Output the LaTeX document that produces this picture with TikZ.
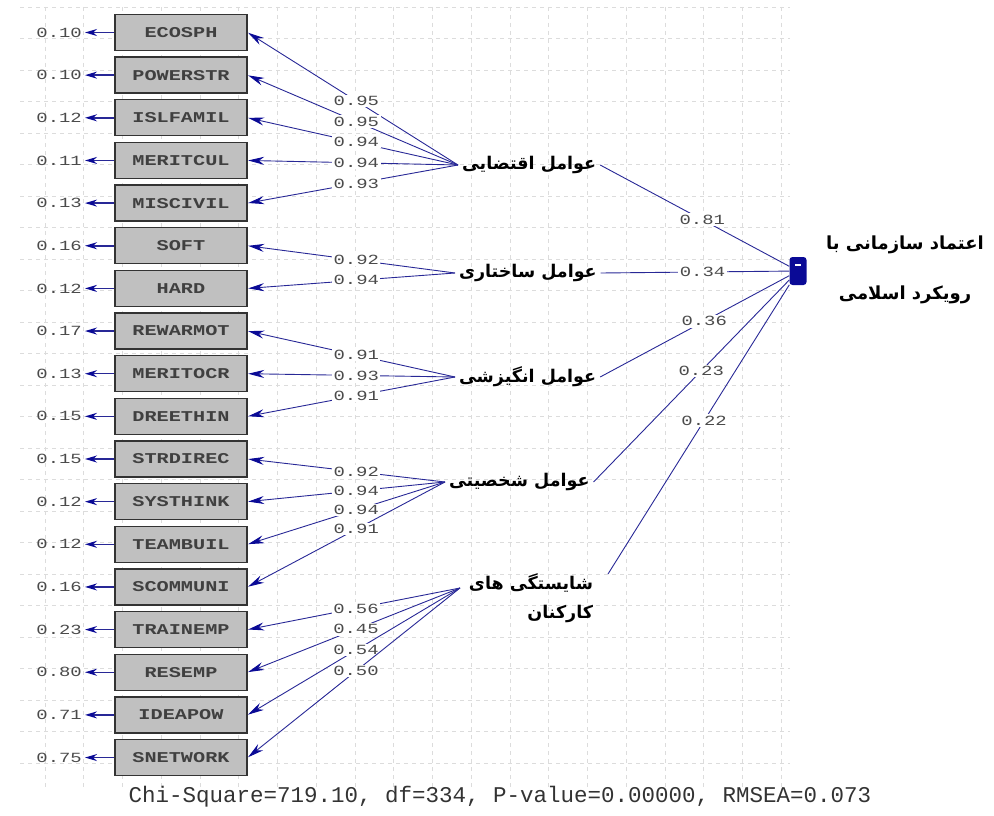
\documentclass[tikz,border=0pt]{standalone}
\usepackage{fontspec}
\usetikzlibrary{arrows.meta}
\TeXXeTstate=1
\newfontfamily\arabicfont[Script=Arabic]{DejaVu Sans}
\newfontfamily\widemono[FakeStretch=1.35]{Liberation Mono}
\newfontfamily\plainmono{Liberation Mono}
\definecolor{lisblue}{RGB}{40,40,150}
\definecolor{tipblue}{RGB}{10,10,150}
\definecolor{boxgray}{RGB}{192,192,192}
\definecolor{numgray}{RGB}{75,75,75}
\definecolor{gridgray}{RGB}{220,220,220}

\begin{document}
\begin{tikzpicture}[x=1pt,y=-1pt,
  gridline/.style={draw=gridgray, line width=0.6pt, dash pattern=on 4pt off 4pt},
  obs/.style={draw=black!80, line width=1.3pt, fill=boxgray, minimum width=132pt,
    minimum height=36pt, inner sep=0pt,
    font=\widemono\bfseries\fontsize{15}{15}\selectfont, text=black!75},
  errval/.style={inner sep=0pt, font=\widemono\fontsize{14}{14}\selectfont, text=numgray},
  coef/.style={fill=white, inner sep=1.5pt, font=\widemono\fontsize{14}{14}\selectfont, text=numgray},
  lat/.style={inner sep=0pt, outer sep=4pt, font=\arabicfont\bfseries\fontsize{17.5}{29}\selectfont},
  lnk/.style={draw=lisblue, line width=0.9pt},
  load/.style={lnk, -{Stealth[length=16pt,width=8pt,color=tipblue]}, shorten >=0.5pt},
  errarrow/.style={lnk, line width=1.5pt, -{Stealth[length=12pt,width=7pt,color=tipblue]}},
]
\useasboundingbox (0,0) rectangle (994,816);

% faint dashed background grid
\foreach \k in {0,...,19}
  \draw[gridline] ({45+38.75*\k},7) -- ({45+38.75*\k},790);
\foreach \k in {0,...,24}
  \draw[gridline] (20,{7+31.5*\k}) -- (790,{7+31.5*\k});

% observed variables with their error variances
\foreach \n/\e [count=\i from 0] in {
  ECOSPH/0.10, POWERSTR/0.10, ISLFAMIL/0.12, MERITCUL/0.11, MISCIVIL/0.13,
  SOFT/0.16, HARD/0.12, REWARMOT/0.17, MERITOCR/0.13, DREETHIN/0.15,
  STRDIREC/0.15, SYSTHINK/0.12, TEAMBUIL/0.12, SCOMMUNI/0.16, TRAINEMP/0.23,
  RESEMP/0.80, IDEAPOW/0.71, SNETWORK/0.75} {
  \node[obs] (v\i) at (181,{32.5+42.65*\i}) {\n};
  \node[errval, anchor=east] (e\i) at (82,{32.5+42.65*\i}) {\e};
  \draw[errarrow] (v\i.west) -- ([xshift=3pt]e\i.east);
}

% latent factors
\node[lat, anchor=west] (econ)   at (458,165) {\beginR عوامل اقتضایی\endR};
\node[lat, anchor=west] (struct) at (455,273) {\beginR عوامل ساختاری\endR};
\node[lat, anchor=west] (motiv)  at (455,377) {\beginR عوامل انگیزشی\endR};
\node[lat, anchor=west] (person) at (445,482) {\beginR عوامل شخصیتی\endR};
\node[lat, anchor=east, align=right] (compet) at (597,598)
  {\beginR شایستگی های\endR\\\beginR کارکنان\endR};
\coordinate (competL) at (460,588);
\coordinate (competR) at (608,574);

% endogenous factor
\node[fill=tipblue, rounded corners=3pt, minimum width=17pt, minimum height=28pt,
  inner sep=0pt] (trust) at (798,271) {};
\draw[white, line width=1.4pt] (trust.center) ++(-3,-6) -- ++(6,0);
\node[inner sep=0pt, align=center, font=\arabicfont\bfseries\fontsize{18}{50}\selectfont]
  (trustlabel) at (905,270)
  {\beginR اعتماد سازمانی با\endR\\\beginR رویکرد  اسلامی\endR};

% loadings
\draw[load] (econ.west) -- node[coef,pos=0.483]{0.95} (v0.east);
\draw[load] (econ.west) -- node[coef,pos=0.483]{0.95} (v1.east);
\draw[load] (econ.west) -- node[coef,pos=0.483]{0.94} (v2.east);
\draw[load] (econ.west) -- node[coef,pos=0.483]{0.94} (v3.east);
\draw[load] (econ.west) -- node[coef,pos=0.483]{0.93} (v4.east);

\draw[load] (struct.west) -- node[coef,pos=0.476]{0.92} (v5.east);
\draw[load] (struct.west) -- node[coef,pos=0.476]{0.94} (v6.east);

\draw[load] (motiv.west) -- node[coef,pos=0.476]{0.91} (v7.east);
\draw[load] (motiv.west) -- node[coef,pos=0.476]{0.93} (v8.east);
\draw[load] (motiv.west) -- node[coef,pos=0.476]{0.91} (v9.east);

\draw[load] (person.west) -- node[coef,pos=0.45]{0.92} (v10.east);
\draw[load] (person.west) -- node[coef,pos=0.45]{0.94} (v11.east);
\draw[load] (person.west) -- node[coef,pos=0.45]{0.94} (v12.east);
\draw[load] (person.west) -- node[coef,pos=0.45]{0.91} (v13.east);

\draw[load] (competL) -- node[coef,pos=0.49]{0.56} (v14.east);
\draw[load] (competL) -- node[coef,pos=0.49]{0.45} (v15.east);
\draw[load] (competL) -- node[coef,pos=0.49]{0.54} (v16.east);
\draw[load] (competL) -- node[coef,pos=0.49]{0.50} (v17.east);

% structural paths
\draw[lnk] (econ.east)   -- node[coef,pos=0.54]{0.81} (trust);
\draw[lnk] (struct.east) -- node[coef,pos=0.54]{0.34} (trust);
\draw[lnk] (motiv.east)  -- node[coef,pos=0.55]{0.36} (trust);
\draw[lnk] (person.east) -- node[coef,pos=0.55]{0.23} (trust);
\draw[lnk] (competR)     -- node[coef,pos=0.53]{0.22} (trust);

% fit statistics
\node[inner sep=0pt, font=\plainmono\fontsize{22.5}{22.5}\selectfont, text=black!80]
  (fit) at (500,797) {Chi-Square=719.10, df=334, P-value=0.00000, RMSEA=0.073};
\end{tikzpicture}
\end{document}
